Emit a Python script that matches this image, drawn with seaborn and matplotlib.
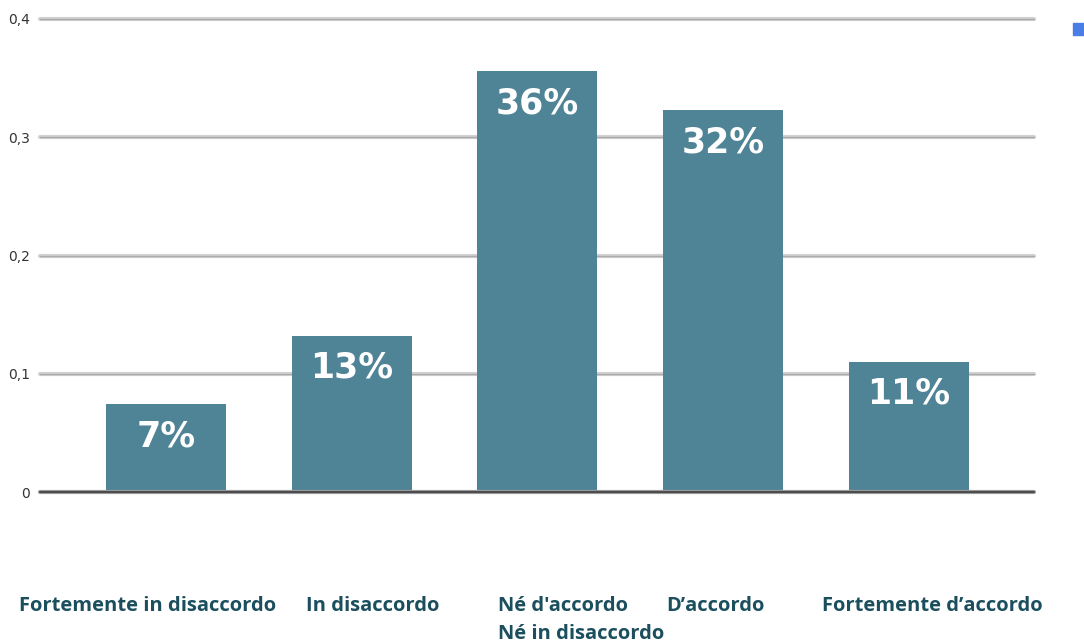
import matplotlib
matplotlib.use("Agg")
import matplotlib.pyplot as plt
from matplotlib.patches import Rectangle
import seaborn as sns
import pandas as pd

# Survey answer shares
categories = ["Fortemente in disaccordo", "In disaccordo",
              "Né d'accordo\nNé in disaccordo", "D’accordo", "Fortemente d’accordo"]
shares = [0.074, 0.132, 0.356, 0.323, 0.11]
y_ticks = [0, 0.1, 0.2, 0.3, 0.4]
y_tick_labels = ["0", "0,1", "0,2", "0,3", "0,4"]

bar_color = "#4f8497"
label_color = "#1b4f5e"

df = pd.DataFrame({"categoria": categories, "quota": shares})

sns.set_theme(style="white")
plt.rcParams["font.family"] = ["DejaVu Sans"]

fig = plt.figure(figsize=(10.84, 6.43), dpi=100)
ax = fig.add_axes([40 / 1084, 1 - 492 / 643, (1034 - 40) / 1084, (492 - 19) / 643])

sns.barplot(data=df, x="categoria", y="quota", color=bar_color, width=0.646,
            saturation=1, linewidth=0, ax=ax, zorder=3)

ax.set_xlim(-0.678, 4.673)
ax.set_ylim(0, 0.4)
ax.set_yticks(y_ticks)
ax.set_yticklabels(y_tick_labels, fontsize=10, color="#333333")
ax.tick_params(axis="y", length=0, pad=7)
ax.set_xticks([])
ax.set_xlabel("")
ax.set_ylabel("")
for s in ax.spines.values():
    s.set_visible(False)

# Horizontal gridlines with a soft double-stroke look
for t in y_ticks[1:]:
    ax.axhline(t, color="#d2d2d2", lw=3.0, zorder=1, clip_on=False)
    ax.axhline(t, color="#ababab", lw=1.0, zorder=1, clip_on=False)
ax.axhline(0, color="#9a9a9a", lw=3.0, zorder=4, clip_on=False)
ax.axhline(0, color="#4a4a4a", lw=1.4, zorder=4, clip_on=False)

# Percentage labels inside bars
for patch, v in zip(ax.patches, shares):
    cx = patch.get_x() + patch.get_width() / 2
    ax.annotate(f"{v:.0%}", (cx, v), xytext=(0, -32), textcoords="offset pixels",
                ha="center", va="center", color="white", fontsize=25,
                fontweight="bold", family=["DejaVu Sans"], zorder=5)

# Category captions laid out in a row beneath the plot
caption_pos = [(19, 596), (306, 596), (498, 596), (666, 596), (822, 596)]
for (px, py), text in zip(caption_pos, categories):
    fig.text(px / 1084, 1 - py / 643, text, ha="left", va="top",
             fontsize=14.5, fontweight="bold", color=label_color,
             family=["Open Sans", "DejaVu Sans"], linespacing=1.55)

# Legend swatch at the right edge
fig.patches.append(Rectangle((1073 / 1084, 1 - 35 / 643), 12 / 1084, 12 / 643,
                             transform=fig.transFigure, color="#4a7ee6"))

fig.savefig("out.png", dpi=100)
